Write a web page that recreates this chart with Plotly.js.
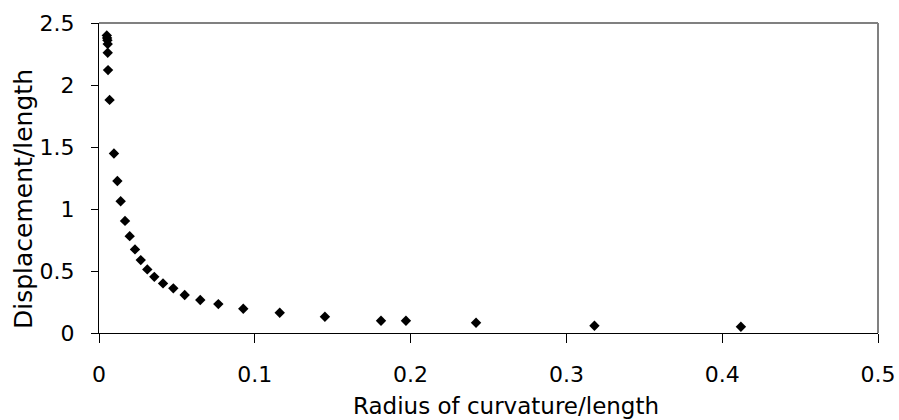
<!DOCTYPE html>
<html>
<head>
<meta charset="utf-8">
<script src="https://cdn.plot.ly/plotly-3.0.1.min.js"></script>
<style>html,body{margin:0;padding:0;background:#fff;}#chart{width:899px;height:420px;}</style>
</head>
<body>
<div id="chart"></div>
<script>
var radius = [0.0050,0.0052,0.0054,0.0056,0.0056,0.0058,0.0068,0.0096,0.0118,0.0139,0.0167,0.0197,0.0231,0.0268,0.0310,0.0355,0.0411,0.0477,0.0550,0.0650,0.0766,0.0926,0.116,0.145,0.181,0.197,0.242,0.318,0.412];
var displacement = [2.40,2.38,2.36,2.33,2.26,2.12,1.88,1.447,1.226,1.063,0.904,0.781,0.674,0.588,0.513,0.453,0.400,0.360,0.306,0.266,0.233,0.196,0.163,0.131,0.099,0.099,0.083,0.059,0.051];
var xTitle = 'Radius of curvature/length';
var yTitle = 'Displacement/length';

var fontFam = 'DejaVu Sans, sans-serif';
var trace = {
  x: radius, y: displacement, type: 'scatter', mode: 'markers',
  marker: {symbol: 'diamond', size: 8, color: '#000000', line: {width: 0}},
  showlegend: false, hoverinfo: 'x+y'
};
var layout = {
  width: 899, height: 420,
  margin: {l: 99, r: 21, t: 23, b: 87, pad: 0},
  paper_bgcolor: '#ffffff', plot_bgcolor: '#ffffff',
  font: {family: fontFam, size: 22, color: '#000000'},
  xaxis: {
    range: [0, 0.5], dtick: 0.1, tick0: 0, showgrid: false, zeroline: false,
    showline: true, linecolor: '#000000', linewidth: 1,
    ticks: 'outside', ticklen: 9, tickwidth: 1, tickcolor: '#000000',
    tickfont: {family: fontFam, size: 22, color: '#000000'},
    ticklabelstandoff: 13, fixedrange: true
  },
  yaxis: {
    range: [0, 2.5], dtick: 0.5, tick0: 0, showgrid: false, zeroline: false,
    showline: true, linecolor: '#000000', linewidth: 1,
    ticks: 'outside', ticklen: 7, tickwidth: 1, tickcolor: '#000000',
    tickfont: {family: fontFam, size: 22, color: '#000000'},
    ticklabelstandoff: 12, fixedrange: true
  },
  shapes: [
    {type: 'line', xref: 'paper', yref: 'paper', x0: 0, x1: 1, y0: 1, y1: 1, line: {color: '#808080', width: 2}},
    {type: 'line', xref: 'paper', yref: 'paper', x0: 1, x1: 1, y0: 0, y1: 1, line: {color: '#808080', width: 2}}
  ],
  annotations: [
    {text: xTitle, xref: 'paper', yref: 'paper', x: (505.5 - 99) / 779, y: 0, yshift: -73,
     xanchor: 'center', yanchor: 'middle', showarrow: false,
     font: {family: fontFam, size: 23, color: '#000000'}},
    {text: yTitle, xref: 'paper', yref: 'paper', x: 0, xshift: -76, y: (333 - 199) / 310, textangle: -90,
     xanchor: 'center', yanchor: 'middle', showarrow: false,
     font: {family: fontFam, size: 25, color: '#000000'}}
  ]
};
Plotly.newPlot('chart', [trace], layout, {displayModeBar: false, staticPlot: true});
</script>
</body>
</html>
